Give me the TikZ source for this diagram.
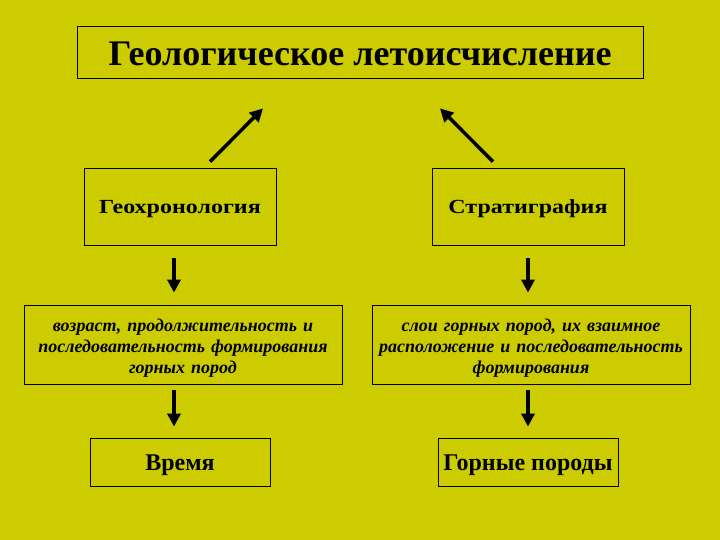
\documentclass[tikz,border=0pt]{standalone}
\usepackage{fontspec}
\setmainfont{Liberation Serif}
\newfontfamily\widebold[FakeStretch=1.2]{Liberation Serif}
\usetikzlibrary{arrows.meta}
\definecolor{slidebg}{RGB}{204,204,0}
\begin{document}
\begin{tikzpicture}[x=1pt, y=-1pt]
% Slide layout, one unit per pixel
\providecommand{\geoFrameWidth}{0.8pt}
\providecommand{\geoShaftWidth}{4.5pt}
\tikzset{
  frame/.style={draw=black, line width=\geoFrameWidth, fill=slidebg, inner sep=0pt, align=center},
  thickarrow/.style={line width=\geoShaftWidth, -{Triangle[width=13pt,length=13pt]}}
}
% Background
\fill[slidebg] (0,0) rectangle (720,540);
\useasboundingbox (0,0) rectangle (720,540);
% Title
\node[frame, minimum width=566pt, minimum height=52pt, text height=31pt, text depth=3pt,
  font=\bfseries\fontsize{36}{42}\selectfont]
  (title) at (360,52) {Геологическое летоисчисление};
% Two branches
\node[frame, minimum width=192pt, minimum height=77pt, text height=16pt, text depth=2.4pt,
  font=\widebold\bfseries\fontsize{20}{24}\selectfont]
  (geochron) at (180,206.5) {Геохронология};
\node[frame, minimum width=192pt, minimum height=77pt, text height=16pt, text depth=2.4pt,
  font=\widebold\bfseries\fontsize{20}{24}\selectfont]
  (strat) at (528,206.5) {Стратиграфия};
% What each branch studies
\node[frame, minimum width=318pt, minimum height=79pt, text width=314pt, text height=16pt, text depth=42pt,
  font=\bfseries\itshape\fontsize{18}{21}\selectfont]
  (agebox) at (183,344.5) {возраст, продолжительность и\\последовательность формирования\\горных пород};
\node[frame, minimum width=318pt, minimum height=79pt, text width=314pt, text height=16pt, text depth=42pt,
  font=\bfseries\itshape\fontsize{18}{21}\selectfont]
  (layerbox) at (531,344.5) {слои горных пород, их взаимное\\расположение и последовательность\\формирования};
% Results
\node[frame, minimum width=180pt, minimum height=48pt, text height=20pt, text depth=2.6pt,
  font=\bfseries\fontsize{24}{28}\selectfont]
  (timebox) at (180,462) {Время};
\node[frame, minimum width=180pt, minimum height=48pt, text height=20pt, text depth=2.6pt,
  font=\bfseries\fontsize{24}{28}\selectfont]
  (rockbox) at (528,462) {Горные породы};
% Arrows up to the title
\coordinate (leftfoot) at ([xshift=30pt,yshift=6pt]geochron.north);
\coordinate (lefttip) at ([xshift=-97pt,yshift=-30pt]title.south);
\coordinate (rightfoot) at ([xshift=-35pt,yshift=6pt]strat.north);
\coordinate (righttip) at ([xshift=80pt,yshift=-30pt]title.south);
\draw[thickarrow, line width=3.5pt] (leftfoot) -- (lefttip);
\draw[thickarrow, line width=3.5pt] (rightfoot) -- (righttip);
% Arrows down
\draw[thickarrow, shorten <=13pt, shorten >=12pt] ([xshift=-6pt]geochron.south) -- ([xshift=-6pt]geochron.south |- agebox.north);
\draw[thickarrow, shorten <=13pt, shorten >=12pt] (strat.south) -- (strat.south |- layerbox.north);
\draw[thickarrow, shorten <=6pt, shorten >=11pt] ([xshift=-6pt]geochron.south |- agebox.south) -- ([xshift=-6pt]geochron.south |- timebox.north);
\draw[thickarrow, shorten <=6pt, shorten >=11pt] (strat.south |- layerbox.south) -- (rockbox.north);
\end{tikzpicture}
\end{document}
